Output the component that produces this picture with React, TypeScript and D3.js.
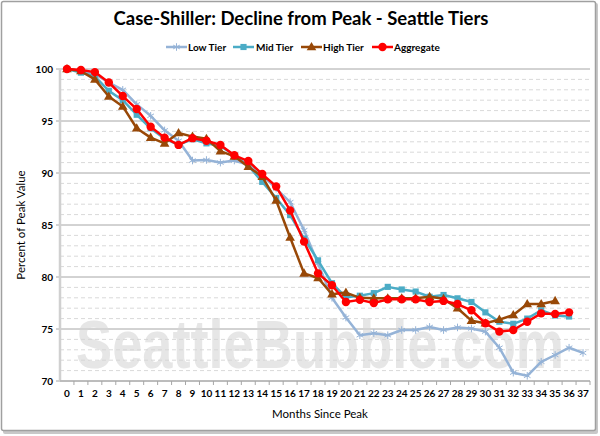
import React from 'react';
import * as d3 from 'd3';

// months since peak (x categories)
const months = [
  '0', '1', '2', '3', '4', '5', '6', '7', '8', '9', '10', '11', '12', '13', '14', '15', '16', '17', '18',
  '19', '20', '21', '22', '23', '24', '25', '26', '27', '28', '29', '30', '31', '32', '33', '34', '35', '36', '37',
];

const lowTier = [
  100, 99.8, 99.5, 98.7, 98.0, 96.6, 95.5, 94.1, 93.1, 91.2, 91.25, 91.0, 91.2, 90.8, 89.8, 88.5, 87.2, 84.5, 81.3,
  78.0, 76.1, 74.4, 74.6, 74.4, 74.9, 74.9, 75.2, 74.9, 75.15, 75.05, 74.75, 73.2, 70.8, 70.5, 71.85, 72.5, 73.2, 72.7,
];
const midTier = [
  100, 99.65, 99.3, 97.9, 97.0, 95.6, 94.3, 93.3, 92.7, 93.25, 92.85, 92.6, 91.7, 90.7, 89.15, 87.6, 85.95, 83.7, 81.6,
  79.4, 78.05, 78.2, 78.45, 79.05, 78.8, 78.6, 78.1, 78.27, 77.95, 77.6, 76.6, 75.7, 75.5, 76.0, 76.8, 76.3, 76.2,
];
const highTier = [
  100, 99.8, 99.0, 97.35, 96.4, 94.3, 93.4, 92.85, 93.85, 93.5, 93.3, 92.1, 91.6, 90.6, 89.65, 87.35, 83.8, 80.35, 79.9,
  78.35, 78.5, 78.0, 77.95, 77.95, 77.95, 77.95, 78.1, 77.9, 77.0, 75.8, 75.55, 75.9, 76.35, 77.4, 77.4, 77.7,
];
const aggregate = [
  100, 99.9, 99.7, 98.7, 97.4, 96.15, 94.45, 93.4, 92.7, 93.35, 93.1, 92.7, 91.7, 91.15, 89.9, 88.7, 86.4, 83.4, 80.35,
  79.2, 77.6, 77.8, 77.5, 77.85, 77.85, 77.85, 77.6, 77.7, 77.4, 76.8, 75.55, 74.75, 74.9, 75.7, 76.5, 76.45, 76.6,
];

const yMajor = [70, 75, 80, 85, 90, 95, 100];
const yMinor = [71, 72, 73, 74, 76, 77, 78, 79, 81, 82, 83, 84, 86, 87, 88, 89, 91, 92, 93, 94, 96, 97, 98, 99];

const series = [
  { name: 'Low Tier', values: lowTier, color: '#95B3D7', marker: 'star' },
  { name: 'Mid Tier', values: midTier, color: '#4BACC6', marker: 'square' },
  { name: 'High Tier', values: highTier, color: '#984807', marker: 'triangle' },
  { name: 'Aggregate', values: aggregate, color: '#FF0000', marker: 'circle' },
];

const W = 600;
const H = 436;
const font = 'Lato, "Open Sans", sans-serif';

const Marker = ({ type, x, y, color }: { type: string; x: number; y: number; color: string }) => {
  if (type === 'circle') return <circle cx={x} cy={y} r={4.2} fill={color} />;
  if (type === 'square') {
    const p = d3.symbol(d3.symbolSquare, 38)();
    return <path d={p || ''} transform={`translate(${x},${y})`} fill={color} />;
  }
  if (type === 'triangle') {
    const p = d3.symbol(d3.symbolTriangle, 40)();
    return <path d={p || ''} transform={`translate(${x},${y + 0.5})`} fill={color} />;
  }
  const p = d3.symbol(d3.symbolAsterisk, 40)();
  return <path d={p || ''} transform={`translate(${x},${y})`} fill="none" stroke={color} strokeWidth={1} />;
};

export default function App() {
  const left = 60;
  const right = 590;
  const top = 69;
  const bottom = 381;

  const x = d3.scaleBand<string>().domain(months).range([left, right]);
  const cx = (i: number) => (x(months[i]) as number) + x.bandwidth() / 2;
  const y = d3.scaleLinear().domain([70, 100]).range([bottom, top]);

  const line = d3
    .line<number>()
    .x((_, i) => cx(i))
    .y((d) => y(d));

  const legendItems = [
    { x: 166, tx: 188 },
    { x: 233, tx: 256 },
    { x: 301, tx: 323 },
    { x: 372, tx: 394 },
  ];

  return (
    <svg width={W} height={H} style={{ position: 'absolute', left: 0, top: 0, background: '#fff' }} fontFamily={font}>
      {/* frame */}
      <rect x={3} y={3} width={595} height={431} rx={2} fill="#c8c8c8" />
      <rect x={1.5} y={1.5} width={594} height={429} rx={2} fill="#fff" stroke="#a0a0a0" strokeWidth={1.5} />

      <text x={301} y={25} textAnchor="middle" fontSize={18.5} fontWeight="bold" fill="#000">
        Case-Shiller: Decline from Peak - Seattle Tiers
      </text>

      {/* legend */}
      {series.map((s, i) => (
        <g key={s.name}>
          <line x1={legendItems[i].x} x2={legendItems[i].x + 21} y1={47} y2={47} stroke={s.color} strokeWidth={2.5} />
          <Marker type={s.marker} x={legendItems[i].x + 10.5} y={47} color={s.color} />
          <text x={legendItems[i].tx} y={50.5} fontSize={10} fontWeight="bold" fill="#000">
            {s.name}
          </text>
        </g>
      ))}

      {/* gridlines */}
      {yMinor.map((v) => (
        <line key={'m' + v} x1={left} x2={right} y1={y(v)} y2={y(v)} stroke="#d9d9d9" strokeWidth={1} strokeDasharray="4,3" />
      ))}
      {yMajor.map((v) => (
        <line key={'M' + v} x1={left - 4} x2={right} y1={y(v)} y2={y(v)} stroke="#a6a6a6" strokeWidth={1} />
      ))}

      {/* watermark */}
      <text
        x={76}
        y={368}
        fontSize={68}
        fontWeight="bold"
        fontFamily='"Liberation Sans Narrow", "Liberation Sans", sans-serif'
        fill="#d6d6d6"
        opacity={0.6}
        textLength={488}
        lengthAdjust="spacingAndGlyphs"
      >
        SeattleBubble.com
      </text>

      {/* axes */}
      <line x1={left} x2={left} y1={top} y2={bottom} stroke="#d0d0d0" strokeWidth={2.5} />
      <line x1={left} x2={right} y1={bottom} y2={bottom} stroke="#a6a6a6" strokeWidth={1} />
      {months.map((m) => (
        <line key={'t' + m} x1={(x(m) as number) + x.bandwidth()} x2={(x(m) as number) + x.bandwidth()} y1={bottom} y2={bottom + 4} stroke="#a6a6a6" />
      ))}
      {yMajor.map((v) => (
        <text key={'yl' + v} x={53} y={y(v) + 3.5} textAnchor="end" fontSize={10} fontWeight="bold" fill="#000">
          {v}
        </text>
      ))}
      {months.map((m, i) => (
        <text key={'xl' + m} x={cx(i)} y={397} textAnchor="middle" fontSize={10} fontWeight="bold" fill="#000">
          {m}
        </text>
      ))}
      <text x={320} y={418} textAnchor="middle" fontSize={11.5} fill="#000">
        Months Since Peak
      </text>
      <text transform={`translate(25,${(top + bottom) / 2}) rotate(-90)`} textAnchor="middle" fontSize={11.5} fill="#000">
        Percent of Peak Value
      </text>

      {/* series */}
      {series.map((s) => (
        <g key={s.name}>
          <path d={line(s.values) || ''} fill="none" stroke={s.color} strokeWidth={2.5} strokeLinejoin="round" />
          {s.values.map((v, i) => (
            <Marker key={i} type={s.marker} x={cx(i)} y={y(v)} color={s.color} />
          ))}
        </g>
      ))}
    </svg>
  );
}
